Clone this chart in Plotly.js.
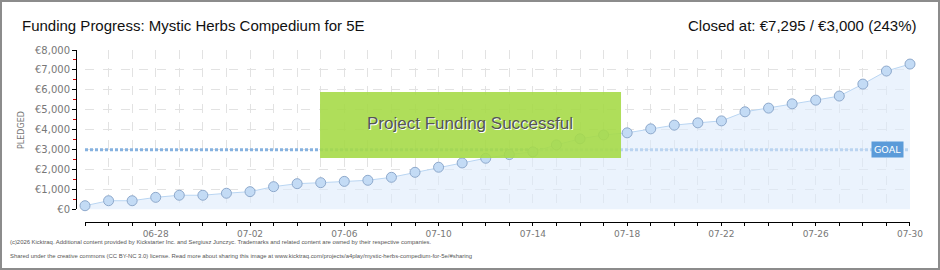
<!DOCTYPE html>
<html>
<head>
<meta charset="utf-8">
<script src="https://cdn.plot.ly/plotly-3.0.1.min.js"></script>
<style>
html,body{margin:0;padding:0;background:#fff;}
#wrap{position:relative;width:940px;height:270px;}
#chart{position:absolute;left:0;top:0;width:940px;height:270px;}
#frame{position:absolute;left:0;top:0;width:940px;height:270px;box-sizing:border-box;border:2px solid #8c8c8c;pointer-events:none;}
</style>
</head>
<body>
<div id="wrap"><div id="chart"></div><div id="frame"></div></div>
<script>
const dates = ["2025-06-25","2025-06-26","2025-06-27","2025-06-28","2025-06-29","2025-06-30","2025-07-01","2025-07-02","2025-07-03","2025-07-04","2025-07-05","2025-07-06","2025-07-07","2025-07-08","2025-07-09","2025-07-10","2025-07-11","2025-07-12","2025-07-13","2025-07-14","2025-07-15","2025-07-16","2025-07-17","2025-07-18","2025-07-19","2025-07-20","2025-07-21","2025-07-22","2025-07-23","2025-07-24","2025-07-25","2025-07-26","2025-07-27","2025-07-28","2025-07-29","2025-07-30"];
const pledged = [190,440,440,610,715,715,815,895,1145,1295,1345,1410,1465,1615,1865,2120,2335,2570,2755,2890,3240,3545,3740,3845,4045,4230,4345,4445,4900,5085,5300,5485,5690,6290,6945,7295];
const goal = 3000;
const yTickVals = [0,1000,2000,3000,4000,5000,6000,7000,8000];
const yTickText = ["€0","€1,000","€2,000","€3,000","€4,000","€5,000","€6,000","€7,000","€8,000"];
const titleText = "Funding Progress: Mystic Herbs Compedium for 5E";
const closedText = "Closed at: €7,295 / €3,000 (243%)";
const successText = "Project Funding Successful";
const footer1 = "(c)2026 Kicktraq. Additional content provided by Kickstarter Inc. and Sergiusz Junczyc. Trademarks and related content are owned by their respective companies.";
const footer2 = "Shared under the creative commons (CC BY-NC 3.0) license. Read more about sharing this image at www.kicktraq.com/projects/a4play/mystic-herbs-compedium-for-5e/#sharing";

const traces = [
  {
    x: [dates[0], dates[dates.length-1]], y: [goal, goal],
    mode: 'lines', line: {color: '#86b2e0', width: 3, dash: '3px,2px'},
    hoverinfo: 'skip', showlegend: false, cliponaxis: false
  },
  {
    x: dates, y: pledged, mode: 'lines+markers', fill: 'tozeroy',
    fillcolor: 'rgba(222,235,251,0.6)',
    line: {color: '#b9d5f2', width: 1},
    marker: {size: 10, color: '#c3dbf5', line: {color: '#8ea9cc', width: 1}},
    showlegend: false, cliponaxis: false
  }
];

const layout = {
  width: 940, height: 270,
  margin: {l: 76, r: 30, t: 50, b: 48},
  paper_bgcolor: '#ffffff', plot_bgcolor: '#ffffff',
  font: {family: 'DejaVu Sans, sans-serif', color: '#666'},
  xaxis: {
    type: 'date', domain: [0.0108, 1], anchor: 'free', position: 0,
    range: ['2025-06-25', '2025-07-30'],
    tick0: '2025-06-28', dtick: 4*86400000, tickformat: '%m-%d',
    ticks: 'outside', ticklen: 3, tickcolor: '#000', tickwidth: 1,
    showline: true, linecolor: '#000', linewidth: 1,
    showgrid: true, gridcolor: '#e2e2e2', griddash: 'dash', gridwidth: 1,
    minor: {dtick: 86400000, ticks: 'outside', ticklen: 3, tickcolor: '#000', showgrid: true, gridcolor: '#e2e2e2', griddash: 'dash'},
    tickfont: {size: 9, color: '#777', family: 'DejaVu Sans, sans-serif'},
    zeroline: false, fixedrange: true
  },
  yaxis: {
    domain: [0.0727, 1], anchor: 'free', position: 0,
    range: [0, 8000],
    tickvals: yTickVals, ticktext: yTickText,
    ticks: 'outside', ticklen: 4, tickcolor: '#000', tickwidth: 1,
    showline: true, linecolor: '#000', linewidth: 1,
    showgrid: true, gridcolor: '#e2e2e2', griddash: 'dash',
    minor: {dtick: 500, ticks: 'outside', ticklen: 3, tickcolor: '#d00000', showgrid: false},
    tickfont: {size: 10, color: '#777', family: 'DejaVu Sans, sans-serif'},
    zeroline: false, fixedrange: true
  },
  shapes: [
    {type: 'rect', xref: 'paper', yref: 'paper', x0: 0.2926, x1: 0.6535, y0: 0.372, y1: 0.756,
     fillcolor: 'rgba(166,218,72,0.9)', line: {width: 0}, layer: 'above'}
  ],
  annotations: [
    {xref: 'paper', yref: 'paper', x: -0.0671, y: 1.145, xanchor: 'left', yanchor: 'middle',
     text: titleText, showarrow: false, font: {family: 'Liberation Sans, sans-serif', size: 15, color: '#111'}},
    {xref: 'paper', yref: 'paper', x: 1.0108, y: 1.145, xanchor: 'right', yanchor: 'middle',
     text: closedText, showarrow: false, font: {family: 'Liberation Sans, sans-serif', size: 15, color: '#111'}},
    {xref: 'paper', yref: 'paper', x: 0.4734, y: 0.566, xanchor: 'center', yanchor: 'middle',
     text: successText, showarrow: false, font: {family: 'Liberation Sans, sans-serif', size: 17, color: '#ffffff'}},
    {xref: 'paper', yref: 'paper', x: 0.4724, y: 0.572, xanchor: 'center', yanchor: 'middle',
     text: successText, showarrow: false, font: {family: 'Liberation Sans, sans-serif', size: 17, color: '#555'}},
    {xref: 'paper', yref: 'y', x: 0.9736, y: goal, xanchor: 'center', yanchor: 'middle',
     text: 'GOAL', showarrow: false, bgcolor: '#5b9bd9', borderpad: 2,
     font: {family: 'DejaVu Sans, sans-serif', size: 9.5, color: '#fff'}},
    {xref: 'paper', yref: 'paper', x: -0.0647, y: 0.535, xanchor: 'center', yanchor: 'middle', textangle: -90,
     text: 'PLEDGED', showarrow: false, font: {family: 'DejaVu Sans, sans-serif', size: 8, color: '#777'}},
    {xref: 'paper', yref: 'paper', x: -0.0815, y: -0.116, xanchor: 'left', yanchor: 'middle',
     text: footer1, showarrow: false, font: {family: 'Liberation Sans, sans-serif', size: 5.9, color: '#555'}},
    {xref: 'paper', yref: 'paper', x: -0.0815, y: -0.198, xanchor: 'left', yanchor: 'middle',
     text: footer2, showarrow: false, font: {family: 'Liberation Sans, sans-serif', size: 5.9, color: '#555'}}
  ]
};

Plotly.newPlot('chart', traces, layout, {displayModeBar: false, staticPlot: true});
</script>
</body>
</html>
